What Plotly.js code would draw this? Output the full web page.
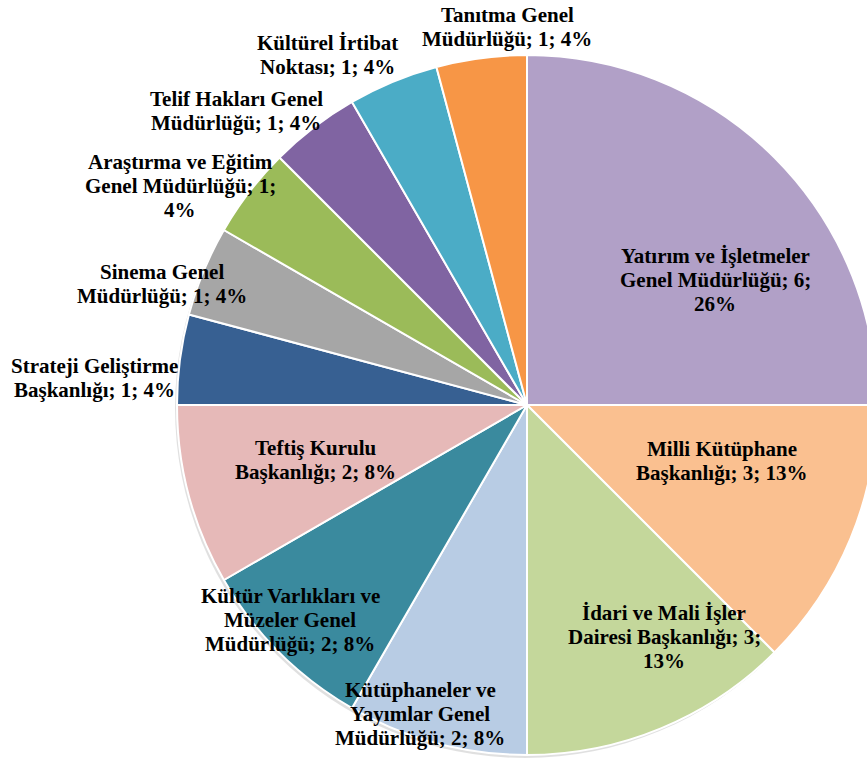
<!DOCTYPE html>
<html>
<head>
<meta charset="utf-8">
<script src="https://cdn.plot.ly/plotly-3.0.1.min.js"></script>
<style>
html, body { margin: 0; padding: 0; overflow: hidden; background: #ffffff; }
#chart { width: 880px; height: 760px; }
</style>
</head>
<body>
<div id="chart"></div>
<script>
// ---- Data ----
var categories = [
  "Yatırım ve İşletmeler Genel Müdürlüğü",
  "Milli Kütüphane Başkanlığı",
  "İdari ve Mali İşler Dairesi Başkanlığı",
  "Kütüphaneler ve Yayımlar Genel Müdürlüğü",
  "Kültür Varlıkları ve Müzeler Genel Müdürlüğü",
  "Teftiş Kurulu Başkanlığı",
  "Strateji Geliştirme Başkanlığı",
  "Sinema Genel Müdürlüğü",
  "Araştırma ve Eğitim Genel Müdürlüğü",
  "Telif Hakları Genel Müdürlüğü",
  "Kültürel İrtibat Noktası",
  "Tanıtma Genel Müdürlüğü"
];
var values = [6, 3, 3, 2, 2, 2, 1, 1, 1, 1, 1, 1];
var percentLabels = ["26%", "13%", "13%", "8%", "8%", "8%", "4%", "4%", "4%", "4%", "4%", "4%"];
// label text as wrapped in the reference
var labelLines = [
  ["Yatırım ve İşletmeler", "Genel Müdürlüğü; 6;", "26%"],
  ["Milli Kütüphane", "Başkanlığı; 3; 13%"],
  ["İdari ve Mali İşler", "Dairesi Başkanlığı; 3;", "13%"],
  ["Kütüphaneler ve", "Yayımlar Genel", "Müdürlüğü; 2; 8%"],
  ["Kültür Varlıkları ve", "Müzeler Genel", "Müdürlüğü; 2; 8%"],
  ["Teftiş Kurulu", "Başkanlığı; 2; 8%"],
  ["Strateji Geliştirme", "Başkanlığı; 1; 4%"],
  ["Sinema Genel", "Müdürlüğü; 1; 4%"],
  ["Araştırma ve Eğitim", "Genel Müdürlüğü; 1;", "4%"],
  ["Telif Hakları Genel", "Müdürlüğü; 1; 4%"],
  ["Kültürel İrtibat", "Noktası; 1; 4%"],
  ["Tanıtma Genel", "Müdürlüğü; 1; 4%"]
];
var colors = ["#B1A0C7", "#FAC090", "#C4D79B", "#B8CCE4", "#3A8A9E", "#E6B9B8",
              "#376092", "#A6A6A6", "#9BBB59", "#8064A2", "#4BACC6", "#F79646"];

// ---- Label placement (styling): angle offset from slice middle (deg), radius as fraction of pie radius ----
var labelAngleOffset = [11.4, -6.5, -8.1, 4.1, 2.8, 0.4, -3.9, -4.2, -5.2, -7.2, -7.2, 4.5];
var labelRadiusFrac  = [0.645, 0.58, 0.77, 0.934, 0.914, 0.623, 1.237, 1.099, 1.172, 1.182, 1.152, 1.081];

// ---- Geometry ----
var W = 880, H = 760;
var dom = { x: [177 / W, 877 / W], y: [5 / H, 705 / H] };
var cx = (dom.x[0] + dom.x[1]) / 2 * W;
var cy = (1 - (dom.y[0] + dom.y[1]) / 2) * H;
var R = Math.min((dom.x[1] - dom.x[0]) * W, (dom.y[1] - dom.y[0]) * H) / 2;

var fontFamily = "Liberation Serif, Times New Roman, serif";
var fontSize = 21;
var lineStep = 24;

var total = values.reduce(function (a, b) { return a + b; }, 0);
var annotations = [];
var cum = 0;
for (var i = 0; i < values.length; i++) {
  var mid = (cum + values[i] / 2) / total * 360;
  cum += values[i];
  var a = (mid + labelAngleOffset[i]) * Math.PI / 180;
  var r = labelRadiusFrac[i] * R;
  var px = cx + r * Math.sin(a);
  var py = cy - r * Math.cos(a);
  var lines = labelLines[i];
  for (var j = 0; j < lines.length; j++) {
    annotations.push({
      xref: "paper", yref: "paper",
      x: px / W, y: 1 - py / H,
      xanchor: "center", yanchor: "middle",
      yshift: -(j - (lines.length - 1) / 2) * lineStep,
      text: lines[j],
      showarrow: false,
      font: { family: fontFamily, size: fontSize, color: "#000000", weight: "bold" }
    });
  }
}

var trace = {
  type: "pie",
  labels: categories,
  values: values,
  customdata: percentLabels,
  textinfo: "none",
  hoverinfo: "label+value",
  sort: false,
  direction: "clockwise",
  rotation: 0,
  marker: { colors: colors, line: { color: "#ffffff", width: 2 } },
  domain: dom,
  showlegend: false
};

// soft shadow under the pie
var shadow = {
  type: "circle", xref: "paper", yref: "paper", layer: "below",
  x0: (cx - R - 2) / W, x1: (cx + R - 2) / W,
  y0: 1 - (cy + R + 3) / H, y1: 1 - (cy - R + 3) / H,
  fillcolor: "rgba(0,0,0,0.12)", line: { width: 0 }
};

Plotly.newPlot("chart", [trace], {
  width: W,
  height: H,
  margin: { l: 0, r: 0, t: 0, b: 0 },
  paper_bgcolor: "#ffffff",
  showlegend: false,
  annotations: annotations,
  shapes: [shadow]
}, { displayModeBar: false, staticPlot: true });
</script>
</body>
</html>
